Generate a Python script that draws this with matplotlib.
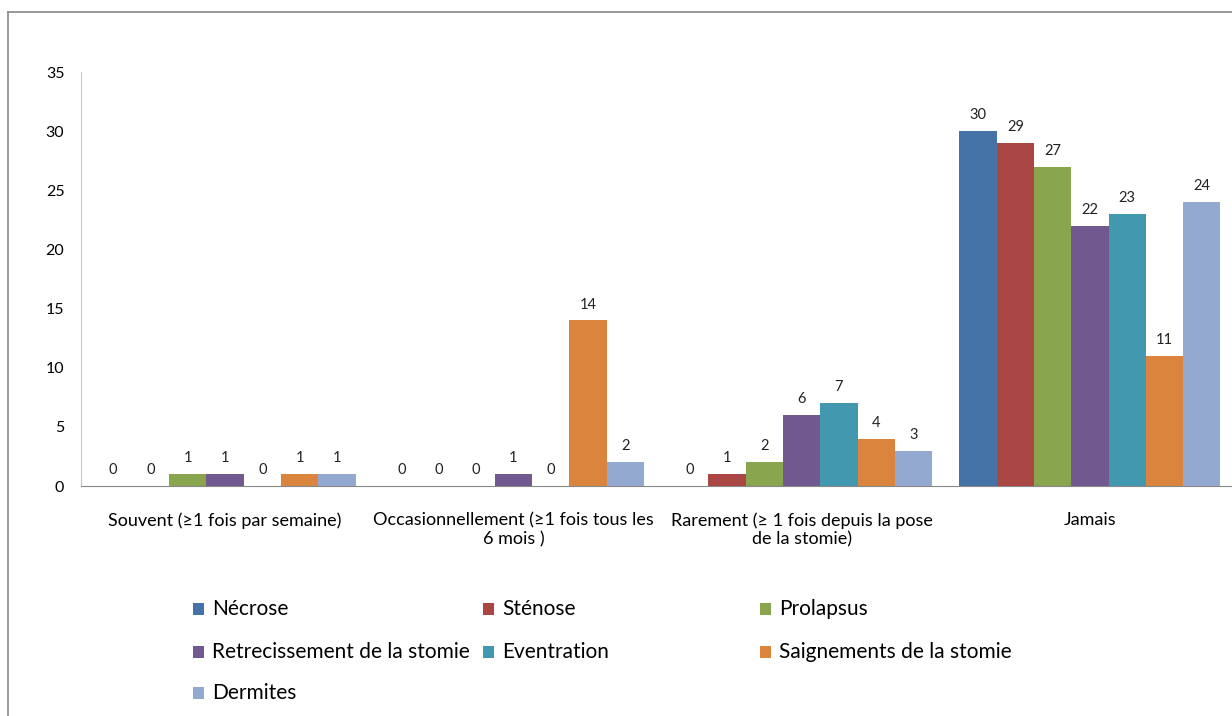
import matplotlib.pyplot as plt
from matplotlib.patches import Rectangle
from matplotlib.lines import Line2D
import numpy as np

categories = [
    "Souvent (≥1 fois par semaine)",
    "Occasionnellement (≥1 fois tous les\n6 mois )",
    "Rarement (≥ 1 fois depuis la pose\nde la stomie)",
    "Jamais",
]
series_names = ["Nécrose", "Sténose", "Prolapsus", "Retrecissement de la stomie",
                "Eventration", "Saignements de la stomie", "Dermites"]
necrose = [0, 0, 0, 30]
stenose = [0, 0, 1, 29]
prolapsus = [1, 0, 2, 27]
retrecissement = [1, 1, 6, 22]
eventration = [0, 0, 7, 23]
saignements = [1, 14, 4, 11]
dermites = [1, 2, 3, 24]
series_values = [necrose, stenose, prolapsus, retrecissement, eventration, saignements, dermites]
colors = ["#4572A7", "#AA4643", "#89A54E", "#71588F", "#4198AF", "#DB843D", "#93A9CF"]
yticks = [0, 5, 10, 15, 20, 25, 30, 35]

plt.rcParams['font.family'] = ['Lato', 'DejaVu Sans']

W, H = 1232, 716
fig = plt.figure(figsize=(W / 100, H / 100), dpi=100)
ax = fig.add_axes([81 / W, 230 / H, 1153 / W, 414 / H])

x = np.arange(len(categories))
bw = 0.1294
n = len(series_names)
for i, (vals, col) in enumerate(zip(series_values, colors)):
    pos = x + (i - (n - 1) / 2) * bw
    ax.bar(pos, vals, width=bw, color=col, linewidth=0)
    for p, v in zip(pos, vals):
        ax.text(p, v + 0.75, str(v), ha='center', va='bottom', fontsize=10.5, color='#222222')

ax.set_xlim(-0.5, len(categories) - 0.5)
ax.set_ylim(0, 35)
ax.set_yticks(yticks)
ax.set_xticks(x)
ax.set_xticklabels(categories, fontsize=13, linespacing=1.2)
ax.tick_params(axis='x', length=0, pad=19)
ax.tick_params(axis='y', length=0, pad=12, labelsize=11.5)
for s in ['top', 'right']:
    ax.spines[s].set_visible(False)
ax.spines['left'].set_color('#C8C8C8')
ax.spines['bottom'].set_color('#888888')

# chart border
fig.add_artist(Line2D([8 / W, 8 / W], [0, 1 - 12 / H], color='#888888', lw=1.2))
fig.add_artist(Line2D([8 / W, 1], [1 - 12 / H, 1 - 12 / H], color='#888888', lw=1.2))

# legend, Excel style: equal-width columns, filled row by row
col_x = [193, 483, 760]
row_y = [609, 652, 693]
for k, (name, col) in enumerate(zip(series_names, colors)):
    cx = col_x[k % 3]
    cy = row_y[k // 3]
    fig.add_artist(Rectangle((cx / W, 1 - (cy + 6) / H), 11 / W, 12 / H,
                             facecolor=col, edgecolor='none'))
    fig.text((cx + 19) / W, 1 - cy / H, name, ha='left', va='center', fontsize=15)

fig.savefig("out.png", dpi=100)
